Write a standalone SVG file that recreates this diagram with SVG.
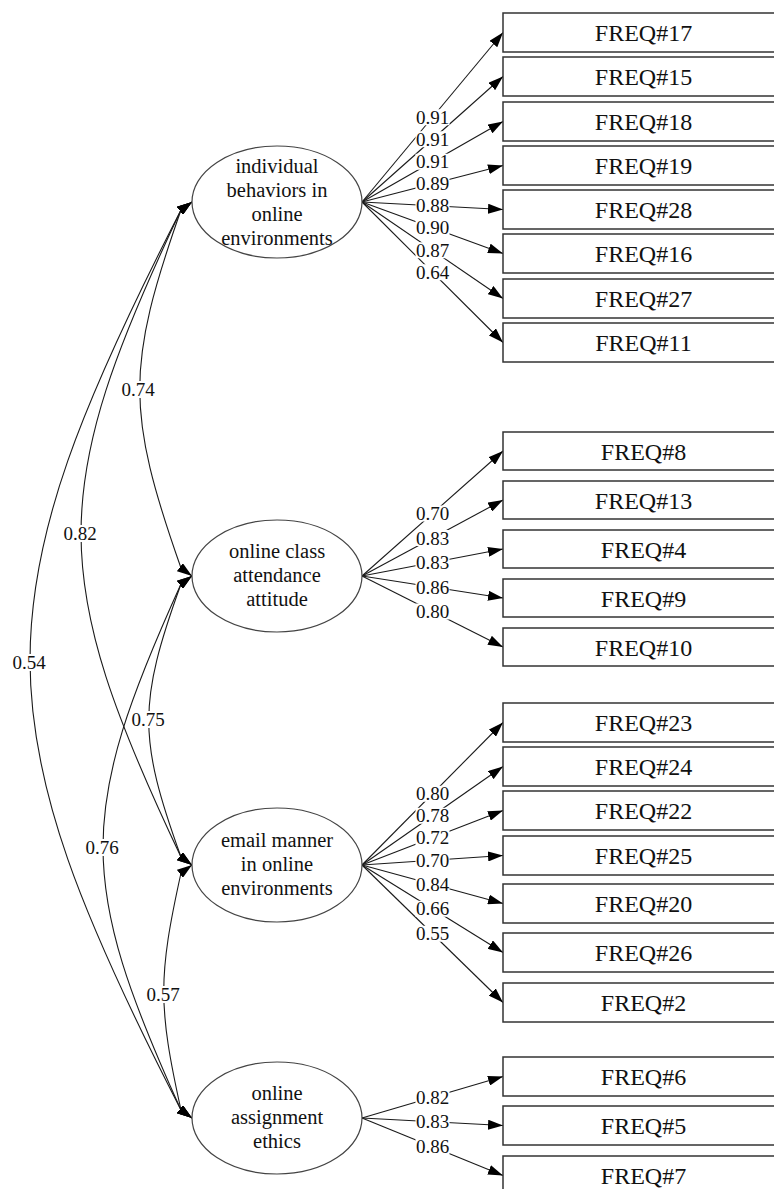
<svg xmlns="http://www.w3.org/2000/svg" width="774" height="1189" viewBox="0 0 774 1189" font-family="Liberation Serif, DejaVu Serif, serif">
<style>
.bg{fill:#fff}
.box{fill:#fff;stroke:#333;stroke-width:1.5}
.ell{fill:#fff;stroke:#444;stroke-width:1.2}
text{font-family:'Liberation Serif','DejaVu Serif',serif}
.bt{font-size:24px;fill:#111;text-anchor:middle}
.et{font-size:20.5px;fill:#111;text-anchor:middle}
.lt{font-size:19px;fill:#111;text-anchor:middle}
.ld{fill:none;stroke:#1a1a1a;stroke-width:1.1;marker-end:url(#arr)}
.cv{fill:none;stroke:#1a1a1a;stroke-width:1.1;marker-start:url(#arr2);marker-end:url(#arr2)}
.lb{fill:#fff}
</style>
<defs>
<marker id="arr" viewBox="0 0 15 10" refX="15" refY="5" markerWidth="15" markerHeight="10" markerUnits="userSpaceOnUse" orient="auto"><path d="M0,0 L15,5 L0,10 z" fill="#000"/></marker>
<marker id="arr2" viewBox="0 0 15 10" refX="15" refY="5" markerWidth="15" markerHeight="10" markerUnits="userSpaceOnUse" orient="auto-start-reverse"><path d="M0,0 L15,5 L0,10 z" fill="#000"/></marker>
</defs>
<rect class="bg" x="0" y="0" width="774" height="1189"/>

<g id="connectors">
<path class="cv" d="M192,202 L181,210 C126,366 126,412 181,568 L192,576"/>
<path class="cv" d="M192,202 L181,210 C47.7,491 47.7,576 181,857 L192,865"/>
<path class="cv" d="M192,202 L181,210 C-20.3,602 -20.3,718 181,1110 L192,1118"/>
<path class="cv" d="M192,576 L181,584 C138,703 138,738 181,857 L192,865"/>
<path class="cv" d="M192,576 L181,584 C77,813 77,881 181,1110 L192,1118"/>
<path class="cv" d="M192,865 L181,873 C158,977 158,1006 181,1110 L192,1118"/>
<line class="ld" x1="362" y1="202" x2="503" y2="32.5"/>
<line class="ld" x1="362" y1="202" x2="503" y2="76.5"/>
<line class="ld" x1="362" y1="202" x2="503" y2="121.5"/>
<line class="ld" x1="362" y1="202" x2="503" y2="165.5"/>
<line class="ld" x1="362" y1="202" x2="503" y2="209.5"/>
<line class="ld" x1="362" y1="202" x2="503" y2="253.5"/>
<line class="ld" x1="362" y1="202" x2="503" y2="298.5"/>
<line class="ld" x1="362" y1="202" x2="503" y2="342.5"/>
<line class="ld" x1="362" y1="576" x2="503" y2="451"/>
<line class="ld" x1="362" y1="576" x2="503" y2="500"/>
<line class="ld" x1="362" y1="576" x2="503" y2="549"/>
<line class="ld" x1="362" y1="576" x2="503" y2="598"/>
<line class="ld" x1="362" y1="576" x2="503" y2="647"/>
<line class="ld" x1="362" y1="865" x2="503" y2="722.5"/>
<line class="ld" x1="362" y1="865" x2="503" y2="766.5"/>
<line class="ld" x1="362" y1="865" x2="503" y2="810.5"/>
<line class="ld" x1="362" y1="865" x2="503" y2="855.5"/>
<line class="ld" x1="362" y1="865" x2="503" y2="903.5"/>
<line class="ld" x1="362" y1="865" x2="503" y2="952.5"/>
<line class="ld" x1="362" y1="865" x2="503" y2="1002.5"/>
<line class="ld" x1="362" y1="1118" x2="503" y2="1076.5"/>
<line class="ld" x1="362" y1="1118" x2="503" y2="1125.5"/>
<line class="ld" x1="362" y1="1118" x2="503" y2="1175.5"/>

<rect class="lb" x="121" y="381" width="34" height="17"/><text class="lt" x="138" y="396">0.74</text>
<rect class="lb" x="63" y="525" width="34" height="17"/><text class="lt" x="80" y="540">0.82</text>
<rect class="lb" x="12" y="654" width="34" height="17"/><text class="lt" x="29" y="669">0.54</text>
<rect class="lb" x="131" y="711" width="34" height="17"/><text class="lt" x="148" y="726">0.75</text>
<rect class="lb" x="85" y="839" width="34" height="17"/><text class="lt" x="102" y="854">0.76</text>
<rect class="lb" x="146" y="986" width="34" height="17"/><text class="lt" x="163" y="1001">0.57</text>

<rect class="lb" x="415.5" y="109.25" width="34" height="16"/><text class="lt" x="432.5" y="123.75">0.91</text>
<rect class="lb" x="415.5" y="131.25" width="34" height="16"/><text class="lt" x="432.5" y="145.75">0.91</text>
<rect class="lb" x="415.5" y="153.75" width="34" height="16"/><text class="lt" x="432.5" y="168.25">0.91</text>
<rect class="lb" x="415.5" y="175.75" width="34" height="16"/><text class="lt" x="432.5" y="190.25">0.89</text>
<rect class="lb" x="415.5" y="197.75" width="34" height="16"/><text class="lt" x="432.5" y="212.25">0.88</text>
<rect class="lb" x="415.5" y="219.75" width="34" height="16"/><text class="lt" x="432.5" y="234.25">0.90</text>
<rect class="lb" x="415.5" y="242.25" width="34" height="16"/><text class="lt" x="432.5" y="256.75">0.87</text>
<rect class="lb" x="415.5" y="264.25" width="34" height="16"/><text class="lt" x="432.5" y="278.75">0.64</text>
<rect class="lb" x="415.5" y="505.5" width="34" height="16"/><text class="lt" x="432.5" y="520">0.70</text>
<rect class="lb" x="415.5" y="530" width="34" height="16"/><text class="lt" x="432.5" y="544.5">0.83</text>
<rect class="lb" x="415.5" y="554.5" width="34" height="16"/><text class="lt" x="432.5" y="569">0.83</text>
<rect class="lb" x="415.5" y="579" width="34" height="16"/><text class="lt" x="432.5" y="593.5">0.86</text>
<rect class="lb" x="415.5" y="603.5" width="34" height="16"/><text class="lt" x="432.5" y="618">0.80</text>
<rect class="lb" x="415.5" y="785.75" width="34" height="16"/><text class="lt" x="432.5" y="800.25">0.80</text>
<rect class="lb" x="415.5" y="807.75" width="34" height="16"/><text class="lt" x="432.5" y="822.25">0.78</text>
<rect class="lb" x="415.5" y="829.75" width="34" height="16"/><text class="lt" x="432.5" y="844.25">0.72</text>
<rect class="lb" x="415.5" y="852.25" width="34" height="16"/><text class="lt" x="432.5" y="866.75">0.70</text>
<rect class="lb" x="415.5" y="876.25" width="34" height="16"/><text class="lt" x="432.5" y="890.75">0.84</text>
<rect class="lb" x="415.5" y="900.75" width="34" height="16"/><text class="lt" x="432.5" y="915.25">0.66</text>
<rect class="lb" x="415.5" y="925.75" width="34" height="16"/><text class="lt" x="432.5" y="940.25">0.55</text>
<rect class="lb" x="415.5" y="1089.25" width="34" height="16"/><text class="lt" x="432.5" y="1103.75">0.82</text>
<rect class="lb" x="415.5" y="1113.75" width="34" height="16"/><text class="lt" x="432.5" y="1128.25">0.83</text>
<rect class="lb" x="415.5" y="1138.75" width="34" height="16"/><text class="lt" x="432.5" y="1153.25">0.86</text>
</g>

<g id="latent-individual">
<ellipse class="ell" cx="277" cy="202" rx="85" ry="56"/>
<text class="et" x="277" y="173">individual</text>
<text class="et" x="277" y="197">behaviors in</text>
<text class="et" x="277" y="221">online</text>
<text class="et" x="277" y="245">environments</text>
</g>
<g id="latent-attendance">
<ellipse class="ell" cx="277" cy="576" rx="85" ry="56"/>
<text class="et" x="277" y="557.5">online class</text>
<text class="et" x="277" y="581.5">attendance</text>
<text class="et" x="277" y="605.5">attitude</text>
</g>
<g id="latent-email">
<ellipse class="ell" cx="277" cy="865" rx="85" ry="57"/>
<text class="et" x="277" y="846.5">email manner</text>
<text class="et" x="277" y="870.5">in online</text>
<text class="et" x="277" y="894.5">environments</text>
</g>
<g id="latent-assignment">
<ellipse class="ell" cx="277" cy="1118" rx="85" ry="56"/>
<text class="et" x="277" y="1099.5">online</text>
<text class="et" x="277" y="1123.5">assignment</text>
<text class="et" x="277" y="1147.5">ethics</text>
</g>

<g id="FREQ17"><rect class="box" x="503" y="13" width="281" height="39"/><text class="bt" x="643.5" y="41">FREQ#17</text></g>
<g id="FREQ15"><rect class="box" x="503" y="57" width="281" height="39"/><text class="bt" x="643.5" y="85">FREQ#15</text></g>
<g id="FREQ18"><rect class="box" x="503" y="102" width="281" height="39"/><text class="bt" x="643.5" y="130">FREQ#18</text></g>
<g id="FREQ19"><rect class="box" x="503" y="146" width="281" height="39"/><text class="bt" x="643.5" y="174">FREQ#19</text></g>
<g id="FREQ28"><rect class="box" x="503" y="190" width="281" height="39"/><text class="bt" x="643.5" y="218">FREQ#28</text></g>
<g id="FREQ16"><rect class="box" x="503" y="234" width="281" height="39"/><text class="bt" x="643.5" y="262">FREQ#16</text></g>
<g id="FREQ27"><rect class="box" x="503" y="279" width="281" height="39"/><text class="bt" x="643.5" y="307">FREQ#27</text></g>
<g id="FREQ11"><rect class="box" x="503" y="323" width="281" height="39"/><text class="bt" x="643.5" y="351">FREQ#11</text></g>

<g id="FREQ8"><rect class="box" x="503" y="432" width="281" height="38"/><text class="bt" x="643.5" y="459.5">FREQ#8</text></g>
<g id="FREQ13"><rect class="box" x="503" y="481" width="281" height="38"/><text class="bt" x="643.5" y="508.5">FREQ#13</text></g>
<g id="FREQ4"><rect class="box" x="503" y="530" width="281" height="38"/><text class="bt" x="643.5" y="557.5">FREQ#4</text></g>
<g id="FREQ9"><rect class="box" x="503" y="579" width="281" height="38"/><text class="bt" x="643.5" y="606.5">FREQ#9</text></g>
<g id="FREQ10"><rect class="box" x="503" y="628" width="281" height="38"/><text class="bt" x="643.5" y="655.5">FREQ#10</text></g>

<g id="FREQ23"><rect class="box" x="503" y="703" width="281" height="39"/><text class="bt" x="643.5" y="731">FREQ#23</text></g>
<g id="FREQ24"><rect class="box" x="503" y="747" width="281" height="39"/><text class="bt" x="643.5" y="775">FREQ#24</text></g>
<g id="FREQ22"><rect class="box" x="503" y="791" width="281" height="39"/><text class="bt" x="643.5" y="819">FREQ#22</text></g>
<g id="FREQ25"><rect class="box" x="503" y="836" width="281" height="39"/><text class="bt" x="643.5" y="864">FREQ#25</text></g>
<g id="FREQ20"><rect class="box" x="503" y="884" width="281" height="39"/><text class="bt" x="643.5" y="912">FREQ#20</text></g>
<g id="FREQ26"><rect class="box" x="503" y="933" width="281" height="39"/><text class="bt" x="643.5" y="961">FREQ#26</text></g>
<g id="FREQ2"><rect class="box" x="503" y="983" width="281" height="39"/><text class="bt" x="643.5" y="1011">FREQ#2</text></g>

<g id="FREQ6"><rect class="box" x="503" y="1057" width="281" height="39"/><text class="bt" x="643.5" y="1085">FREQ#6</text></g>
<g id="FREQ5"><rect class="box" x="503" y="1106" width="281" height="39"/><text class="bt" x="643.5" y="1134">FREQ#5</text></g>
<g id="FREQ7"><rect class="box" x="503" y="1156" width="281" height="39"/><text class="bt" x="643.5" y="1184">FREQ#7</text></g>
</svg>
